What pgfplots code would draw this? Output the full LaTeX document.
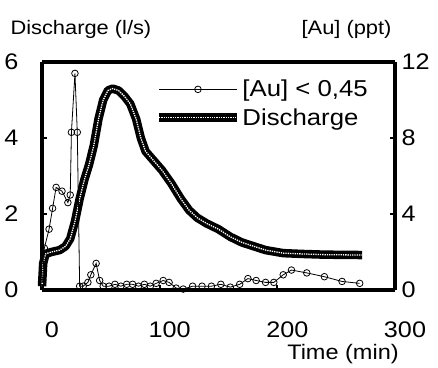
\documentclass[border=0pt]{standalone}
\usepackage{pgfplots}
\pgfplotsset{compat=1.18}
\usepackage{pgfplotstable}
\usepackage{fontspec}
\setmainfont{Liberation Sans}[FakeStretch=1.12]
\pgfplotstableread{
t q
0 0.1
1 0.7
3 0.95
8 1.0
15 1.05
20 1.15
24 1.35
28 1.8
32 2.4
36 2.9
40 3.3
44 3.8
48 4.5
52 5.0
56 5.25
60 5.3
65 5.25
70 5.1
75 4.9
80 4.5
84 4.0
88 3.65
95 3.4
102 3.15
110 2.8
118 2.4
125 2.1
132 1.9
140 1.75
150 1.6
160 1.4
170 1.25
180 1.15
190 1.05
205 0.97
220 0.95
240 0.93
272 0.92
}\discharge
\pgfplotstableread{
t au
0.5 0.4
2 2.2
6 3.2
9 4.3
12 5.4
17 5.2
22 4.6
24 5.0
25 8.3
28 11.4
30 8.3
32 0.2
35 0.2
39 0.4
41.5 0.8
46 1.4
49 0.5
52 0.2
57 0.2
62 0.3
67 0.2
72 0.3
77 0.3
82 0.2
87 0.3
92 0.2
97 0.35
103 0.5
108 0.4
114 0.1
120 0.05
128 0.2
136 0.2
144 0.2
152 0.3
160 0.15
168 0.3
175 0.6
182 0.5
190 0.4
197 0.4
205 0.8
212 1.05
225 0.9
240 0.7
255 0.45
270 0.35
}\au
\begin{document}
\begin{tikzpicture}
\begin{axis}[
  scale only axis, width=353pt, height=228pt,
  xmin=0, xmax=300, ymin=0, ymax=6,
  xtick={0,100,200,300}, ytick={0,2,4,6},
  xtick pos=bottom, ytick pos=left,
  tick align=inside, major tick length=5pt,
  tick style={line width=2pt, black},
  separate axis lines,
  axis line style={line width=3.5pt},
  /pgf/number format/assume math mode=true,
  ticklabel style={font=\fontsize{22.5}{26}\selectfont},
  xticklabel style={xshift=10pt, yshift=-28pt},
  yticklabel style={xshift=-20pt},
  clip=false,
]
\coordinate (bl) at (rel axis cs:0,0);
\addplot[black, line width=8.5pt, line join=round] table[x=t, y=q] {\discharge};
\addplot[white, line width=1.3pt, densely dotted, line join=round] table[x=t, y=q] {\discharge};
\end{axis}
\begin{axis}[
  scale only axis, width=353pt, height=228pt,
  xmin=0, xmax=300, ymin=0, ymax=12,
  hide x axis, axis y line*=right,
  ytick={0,4,8,12},
  tick align=inside, major tick length=5pt,
  tick style={line width=2pt, black},
  axis line style={line width=3pt, -},
  /pgf/number format/assume math mode=true,
  ticklabel style={font=\fontsize{22.5}{26}\selectfont},
  yticklabel style={xshift=3pt},
  clip=false,
  legend style={at={(0.318,0.925)}, anchor=north west, draw=none, fill=none,
    font=\fontsize{23}{26}\selectfont, row sep=8pt, inner sep=0pt,
    nodes={inner sep=1pt}},
  legend cell align=left,
]
\addplot[black, line width=0.8pt, mark=o, mark size=3.3pt, mark options={fill=white, line width=0.8pt},
  legend image code/.code={\draw[black, line width=0.8pt, mark=o, mark size=3.3pt, mark options={fill=white}, mark repeat=2, mark phase=2] plot coordinates {(0pt,0pt) (39pt,0pt) (78pt,0pt)};}]
  table[x=t, y=au] {\au};
\addlegendentry{[Au] < 0,45}
\addlegendimage{legend image code/.code={\draw[black, line width=9pt] (0pt,0pt) -- (78pt,0pt); \draw[white, line width=1.3pt, densely dotted] (0pt,0pt) -- (78pt,0pt);}}
\addlegendentry{Discharge}
\end{axis}
\node[anchor=west, font=\fontsize{19.5}{24}\selectfont] at ([shift={(-35pt,261pt)}]bl) {Discharge (l/s)};
\node[anchor=east, font=\fontsize{19.5}{24}\selectfont] at ([shift={(353pt,261pt)}]bl) {[Au] (ppt)};
\node[font=\fontsize{21}{24}\selectfont] at ([shift={(301pt,-64pt)}]bl) {Time (min)};
\path[use as bounding box] ([shift={(-42pt,-74pt)}]bl) rectangle ([shift={(396pt,290pt)}]bl);
\end{tikzpicture}
\end{document}
